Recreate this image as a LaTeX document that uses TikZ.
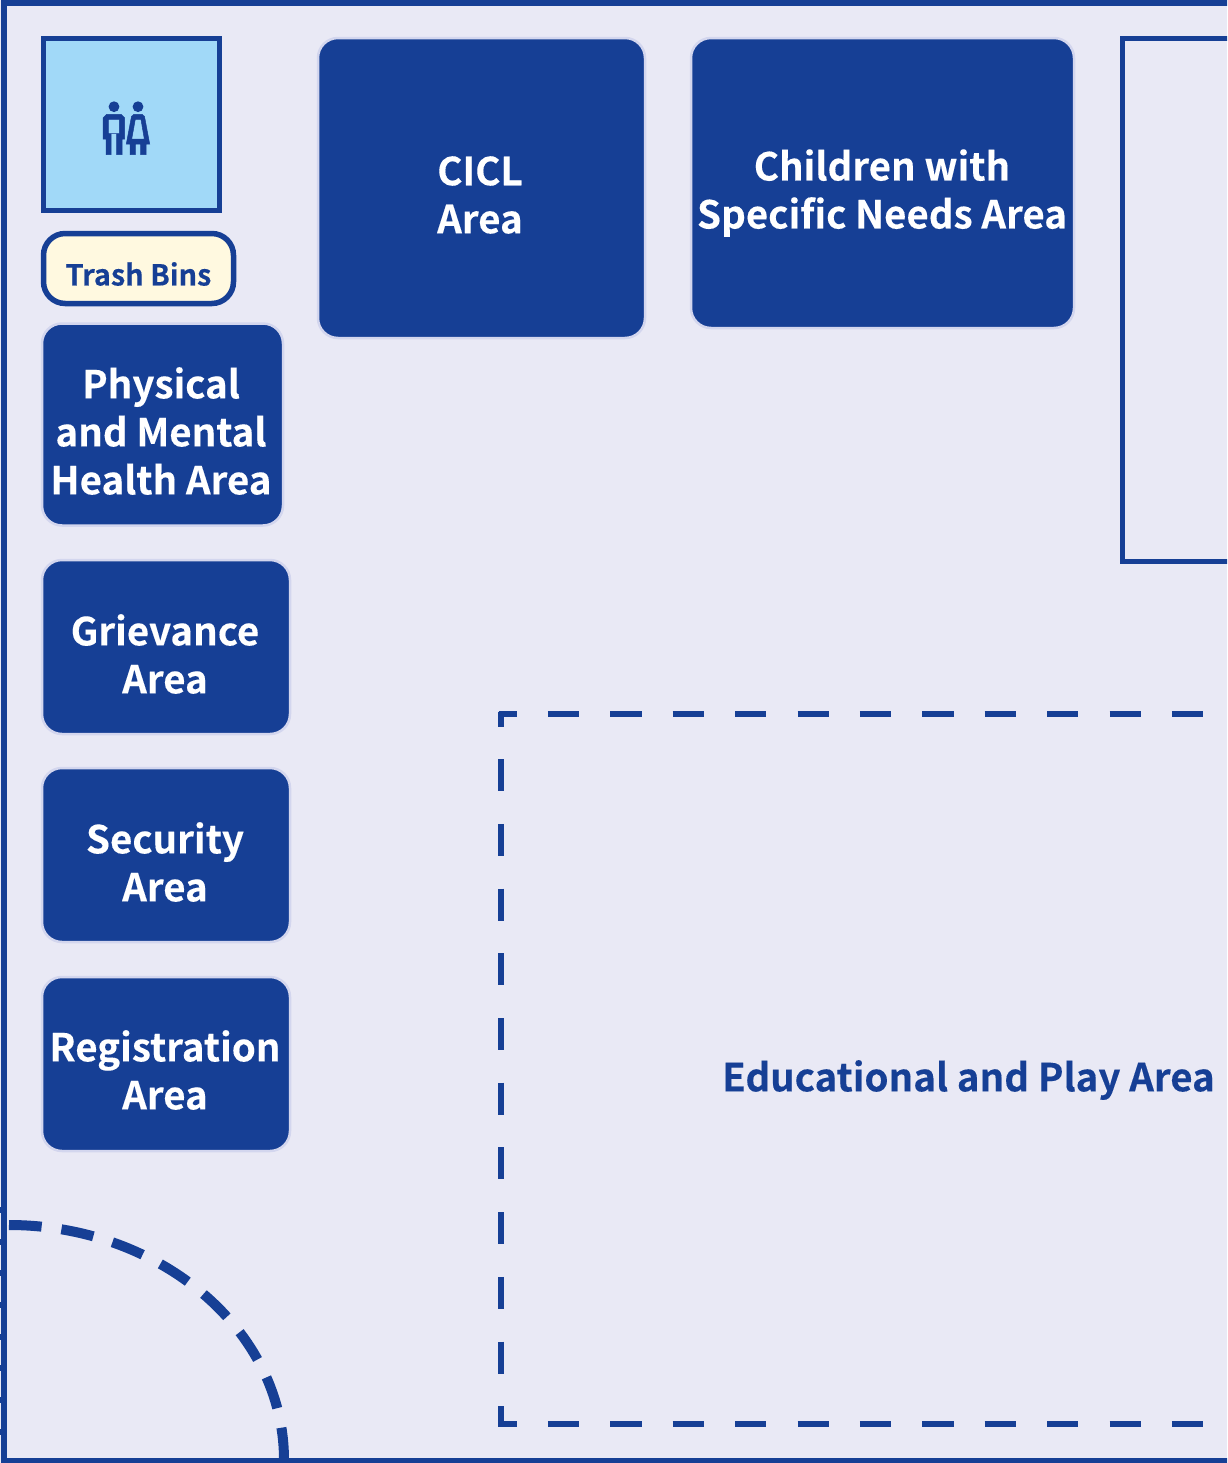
\documentclass[tikz,border=0pt]{standalone}
\usepackage{fontspec}
\setmainfont{Noto Sans CJK SC}[BoldFont={Noto Sans CJK SC Bold}, BoldFeatures={FakeBold=0.25}]
\definecolor{planblue}{HTML}{163F95}
\definecolor{planbg}{HTML}{E9E9F5}
\definecolor{planedge}{HTML}{D3D6EE}
\definecolor{planwc}{HTML}{A1D9F8}
\definecolor{planbin}{HTML}{FFF9E0}
\tikzset{
	area/.style={draw=planedge, line width=1.5pt, fill=planblue, rounded corners=12pt, anchor=north west, inner sep=0pt, outer sep=0pt},
	areatext/.style={text=white, font=\bfseries\fontsize{23.1}{28.8}\selectfont, align=center, inner sep=0pt},
	wall/.style={draw=planblue, line width=3.3pt},
	gate/.style={draw=planblue, line width=3.4pt},
}
\begin{document}
\begin{tikzpicture}[x=0.6pt, y=-0.6pt]
	\useasboundingbox (0, 0) rectangle (1227, 1463);
	\clip (0, 0) rectangle (1227, 1463);
	\fill [planbg] (0, 0) rectangle (1227, 1463);
	% left edge and corner
	\draw [planblue, line width=4.4pt, dash pattern=on 3.6pt off 15.4pt] (3.6, 1207) -- (3.6, 1460);
	\draw [wall] (4, 3) rectangle (1300, 1460.5);
	\draw [planblue, line width=6pt, dash pattern=on 19.6pt off 12pt] (9, 1225) .. controls (160, 1225) and (284, 1330) .. (284, 1460);
	% rooms
	\node [area, minimum width=196.2pt, minimum height=180pt] (cicl) at (318, 38) {};
	\node [areatext] (cicltext) at (480, 195) {CICL\\Area};
	\node [area, minimum width=229.8pt, minimum height=174pt] (needs) at (691, 38) {};
	\node [areatext] (needstext) at (882, 193) {Children with\\Specific Needs Area};
	\draw [wall] (1300, 38.5) -- (1122.5, 38.5) -- (1122.5, 561.5) -- (1300, 561.5);
	\node [area, minimum width=144.6pt, minimum height=121.2pt] (health) at (42, 323.5) {};
	\node [areatext] (healthtext) at (161, 431) {Physical\\and Mental\\Health Area};
	\node [area, minimum width=148.8pt, minimum height=104.4pt] (grievance) at (42, 560) {};
	\node [areatext] (grievancetext) at (165, 654) {Grievance\\Area};
	\node [area, minimum width=148.8pt, minimum height=104.4pt] (security) at (42, 768) {};
	\node [areatext] (securitytext) at (165, 862) {Security\\Area};
	\node [area, minimum width=148.8pt, minimum height=104.4pt] (registration) at (42, 977) {};
	\node [areatext] (registrationtext) at (165, 1070) {Registration\\Area};
	% toilet
	\draw [wall, fill=planwc] (43.5, 38.5) rectangle (219.5, 210.5);
	\fill [planblue] (114, 106.7) circle [radius=5.4];
	\fill [planblue] (138, 106.7) circle [radius=5.4];
	\filldraw [planblue, line width=0.3pt, even odd rule] (103, 139) -- (103, 118) -- (106.7, 114.3) -- (121, 114.3) -- (124.7, 118) -- (124.7, 139) -- (122, 139) -- (122, 154.7) -- (116.7, 154.7) -- (116.7, 133.7) -- (111, 133.7) -- (111, 154.7) -- (106, 154.7) -- (106, 139) -- cycle
		(108.3, 119.3) rectangle (119.3, 133.7);
	\filldraw [planblue, line width=0.3pt, even odd rule] (126.3, 144) -- (131.5, 116.5) -- (134, 114.3) -- (142, 114.3) -- (144.5, 116.5) -- (149.7, 144) -- (146, 144) -- (146, 154.7) -- (140.7, 154.7) -- (140.7, 144) -- (135.3, 144) -- (135.3, 154.7) -- (130, 154.7) -- (130, 144) -- cycle
		(135.3, 119.3) -- (141, 119.3) -- (144.3, 139) -- (131.7, 139) -- cycle;
	% bins
	\node [draw=planblue, line width=3.3pt, fill=planbin, rounded corners=13pt, minimum width=114pt, minimum height=42pt, inner sep=0pt, outer sep=0pt, anchor=north west] (bins) at (43.5, 233.5) {};
	\node [text=planblue, font=\bfseries\fontsize{17.3}{20.8}\selectfont, inner sep=0pt] (binstext) at (138.5, 274) {Trash Bins};
	% play area
	\draw [gate, dash pattern=on 18.72pt off 18.72pt, dash phase=7.8pt] (498.5, 714) -- (1227, 714);
	\draw [gate, dash pattern=on 18.72pt off 18.72pt, dash phase=7.8pt] (498.5, 1424) -- (1227, 1424);
	\draw [gate, dash pattern=on 19.2pt off 19.62pt, dash phase=10.2pt] (501, 711.5) -- (501, 1426.5);
	\node [text=planblue, font=\bfseries\fontsize{23.1}{28.8}\selectfont, inner sep=0pt] (play) at (968.5, 1080) {Educational and Play Area};
\end{tikzpicture}
\end{document}
